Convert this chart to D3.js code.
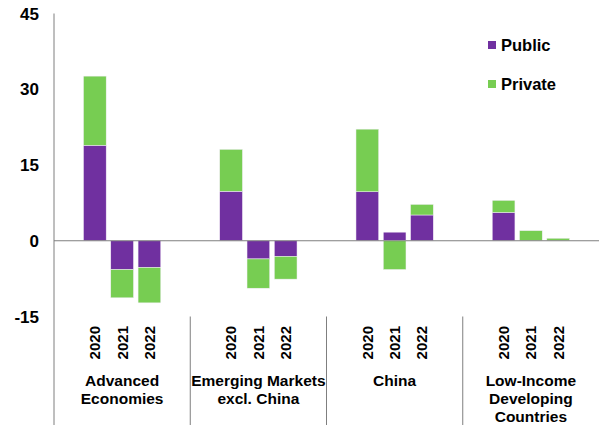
<!DOCTYPE html>
<html>
<head>
<meta charset="utf-8">
<script src="https://cdn.jsdelivr.net/npm/d3@7"></script>
<style>
  body { margin: 0; background: #fff; }
  text { font-family: "Liberation Sans", Arial, sans-serif; font-weight: bold; fill: #000; }
</style>
</head>
<body>
<div id="chart"></div>
<script>
// groups, years and the two stacked series
const groups = [["Advanced", "Economies"], ["Emerging Markets", "excl. China"], ["China"], ["Low-Income", "Developing", "Countries"]];
const years = ["2020", "2021", "2022"];
const publicVals = [18.9, -5.7, -5.3, 9.8, -3.6, -3.1, 9.7, 1.7, 5.1, 5.6, 0.0, 0.0];
const privateVals = [13.7, -5.6, -7.0, 8.3, -5.8, -4.5, 12.4, -5.7, 2.1, 2.4, 2.0, 0.5];
const yTicks = [-15, 0, 15, 30, 45];
const seriesNames = ["Public", "Private"];
const colors = ["#7030a0", "#77cd52"];

const width = 599, height = 425;
const left = 54, right = 599;

const svg = d3.select("#chart").append("svg")
  .attr("width", width)
  .attr("height", height);

// build rows for d3.stack
const rows = [];
groups.forEach((g, gi) => {
  years.forEach((yr, yi) => {
    const i = gi * 3 + yi;
    rows.push({ group: gi, year: yr, Public: publicVals[i], Private: privateVals[i] });
  });
});

const y = d3.scaleLinear().domain([-15, 45]).range([316.5, 13.5]);

const x0 = d3.scaleBand()
  .domain(d3.range(groups.length))
  .range([left, right]);

const x1 = d3.scaleBand()
  .domain(years)
  .range([0, x0.bandwidth()])
  .paddingInner(0.168)
  .paddingOuter(1.08);

const stack = d3.stack()
  .keys(seriesNames)
  .offset(d3.stackOffsetDiverging);
const series = stack(rows);

// y tick labels
svg.append("g").selectAll("text")
  .data(yTicks)
  .join("text")
  .attr("x", 39)
  .attr("y", d => y(d))
  .attr("dy", "0.36em")
  .attr("text-anchor", "end")
  .style("font-size", "17px")
  .text(d => d);

// bars
svg.append("g").selectAll("g")
  .data(series)
  .join("g")
  .attr("fill", (d, i) => colors[i])
  .selectAll("rect")
  .data(d => d)
  .join("rect")
  .attr("x", d => x0(d.data.group) + x1(d.data.year))
  .attr("width", x1.bandwidth())
  .attr("y", d => y(Math.max(d[0], d[1])))
  .attr("height", d => Math.abs(y(d[0]) - y(d[1])))
  .attr("stroke", "#f4eef8")
  .attr("stroke-width", 0.5);

// zero line
svg.append("line")
  .attr("x1", left).attr("x2", right)
  .attr("y1", y(0)).attr("y2", y(0))
  .attr("stroke", "#7f7f7f")
  .attr("stroke-width", 1.2);

// y axis line
svg.append("line")
  .attr("x1", left).attr("x2", left)
  .attr("y1", y(45)).attr("y2", height)
  .attr("stroke", "#7f7f7f")
  .attr("stroke-width", 1);

// group separators
svg.append("g").selectAll("line")
  .data(d3.range(1, groups.length))
  .join("line")
  .attr("x1", d => x0(d)).attr("x2", d => x0(d))
  .attr("y1", y(-15)).attr("y2", height)
  .attr("stroke", "#7f7f7f")
  .attr("stroke-width", 1);

// year labels (rotated)
svg.append("g").selectAll("text")
  .data(rows)
  .join("text")
  .attr("transform", d => `translate(${x0(d.group) + x1(d.year) + x1.bandwidth() / 2},326) rotate(-90)`)
  .attr("dy", "0.36em")
  .attr("text-anchor", "end")
  .style("font-size", "15px")
  .text(d => d.year);

// group labels
const gl = svg.append("g").selectAll("text")
  .data(groups)
  .join("text")
  .attr("x", (d, i) => x0(i) + x0.bandwidth() / 2)
  .attr("y", 386)
  .attr("text-anchor", "middle")
  .style("font-size", "15.5px");
gl.selectAll("tspan")
  .data(d => d)
  .join("tspan")
  .attr("x", function () { return d3.select(this.parentNode).attr("x"); })
  .attr("dy", (d, i) => i === 0 ? 0 : 18)
  .text(d => d);

// legend
const legend = svg.append("g").selectAll("g")
  .data(seriesNames)
  .join("g")
  .attr("transform", (d, i) => `translate(488,${41 + i * 39})`);
legend.append("rect")
  .attr("width", 8).attr("height", 8)
  .attr("fill", (d, i) => colors[i]);
legend.append("text")
  .attr("x", 13).attr("y", 10)
  .style("font-size", "16.5px")
  .text(d => d);
</script>
</body>
</html>
